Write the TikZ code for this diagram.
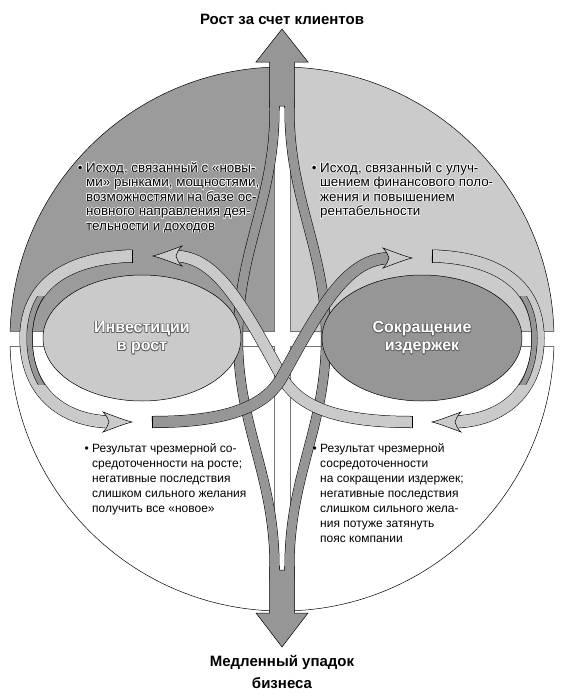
\documentclass[tikz,border=0pt]{standalone}
\usepackage{fontspec}
\setmainfont{Liberation Sans}
\usetikzlibrary{shapes.geometric}

\definecolor{qdark}{RGB}{155,155,155}
\definecolor{qlight}{RGB}{203,203,203}
\definecolor{bdark}{RGB}{150,150,150}
\definecolor{blight}{RGB}{202,202,202}
\definecolor{hdark}{RGB}{95,95,95}

\tikzset{
  band/.style={draw=black, line width=0.5pt, double=#1, double distance=11pt},
  loopband/.style={draw=black, line width=0.5pt, double=#1, double distance=12pt},
  vband/.style={draw=black, line width=0.5pt, double=bdark, double distance=9pt},
  qedge/.style={draw=black!55, line width=0.5pt},
  note/.style={anchor=north west, align=left, inner sep=0pt, font=\fontsize{13.4}{14.5}\selectfont},
  bnote/.style={anchor=north west, align=left, inner sep=0pt, font=\fontsize{12}{15}\selectfont},
  title/.style={font=\fontsize{15}{22}\selectfont\bfseries, align=center, inner sep=0pt},
  lbl/.style={font=\fontsize{16}{18}\selectfont\bfseries, align=center, inner sep=0pt, text=white},
  blob/.style={ellipse, draw=black, line width=0.5pt, minimum width=#1, minimum height=126pt, inner sep=0pt},
  pics/loophead/.style={code={
    \path[pic actions] (0,0) .. controls (-8,-2) and (-18,-6) .. (-29,-10)
      .. controls (-25,-6) and (-24,-3) .. (-23,0)
      .. controls (-24,3) and (-25,6) .. (-29,10)
      .. controls (-18,6) and (-8,2) .. (0,0) -- cycle;}},
}

% text with a thin halo round it
\newcommand\halonote[5]{%
  \foreach \hx/\hy in {0.7/0,-0.7/0,0/0.7,0/-0.7,0.5/0.5,-0.5/0.5,0.5/-0.5,-0.5/-0.5}
    {\node[#3, text=#4] at ([shift={(\hx,\hy)}]#2) {#5};}
  \node[#3] (#1) at (#2) {#5};}

\begin{document}
\begin{tikzpicture}[x=1pt, y=-1pt]
\useasboundingbox (0,0) rectangle (574,696);

% quadrants
\begin{scope}
  \clip (0,0) rectangle (274,331);
  \filldraw[fill=qdark, draw=black, line width=0.5pt] (282,339) circle [radius=272];
\end{scope}
\begin{scope}
  \clip (290,0) rectangle (574,331);
  \filldraw[fill=qlight, draw=black, line width=0.5pt] (282,339) circle [radius=272];
\end{scope}
\begin{scope}
  \clip (0,346) rectangle (274,696);
  \draw[line width=0.5pt] (282,339) circle [radius=272];
\end{scope}
\begin{scope}
  \clip (290,346) rectangle (574,696);
  \draw[line width=0.5pt] (282,339) circle [radius=272];
\end{scope}
\draw[qedge] (274,67.1) -- (274,331) -- (10.1,331);
\draw[qedge] (290,67.1) -- (290,331) -- (553.9,331);
\draw[qedge] (10.1,346) -- (274,346) -- (274,610.9);
\draw[qedge] (553.9,346) -- (290,346) -- (290,610.9);

% vertical bands
\draw[vband] (274.5,100) -- (274.5,110) .. controls (274.5,200) and (238,250) .. (238,338)
  .. controls (238,426) and (274.5,476) .. (274.5,566) -- (274.5,580);
\draw[vband] (289.5,100) -- (289.5,110) .. controls (289.5,200) and (326,250) .. (326,338)
  .. controls (326,426) and (289.5,476) .. (289.5,566) -- (289.5,580);

% up and down arrows
\fill[bdark] (269.5,108) -- (269.5,62) -- (256,62) -- (282,29) -- (308,62) -- (294.5,62)
  -- (294.5,108) -- (284.5,108) -- (284.5,106) -- (279.5,106) -- (279.5,108) -- cycle;
\draw[line width=0.5pt] (269.5,108) -- (269.5,62) -- (256,62) -- (282,29) -- (308,62)
  -- (294.5,62) -- (294.5,108) (279.5,108) -- (279.5,106) -- (284.5,106) -- (284.5,108);
\fill[bdark] (269.5,566) -- (269.5,613) -- (256,613) -- (282,647) -- (308,613) -- (294.5,613)
  -- (294.5,566) -- (284.5,566) -- (284.5,570) -- (279.5,570) -- (279.5,566) -- cycle;
\draw[line width=0.5pt] (269.5,566) -- (269.5,613) -- (256,613) -- (282,647) -- (308,613)
  -- (294.5,613) -- (294.5,566) (279.5,566) -- (279.5,570) -- (284.5,570) -- (284.5,566);

% ellipses
\node[blob=198pt, fill=blight] (invest) at (142,338) {};
\node[blob=200pt, fill=bdark] (cuts) at (422,338) {};

% figure eight: loops round the ellipses
\draw[loopband=blight] (132,256) .. controls (60,258) and (26,290) .. (26,338)
  .. controls (26,390) and (60,421) .. (111,422);
\draw[loopband=blight] (432,256) .. controls (504,258) and (538,290) .. (538,338)
  .. controls (538,390) and (504,421) .. (453,422);
% darker inner side of the loops
\begin{scope}
  \clip (0,296) rectangle (120,384);
  \draw[loopband=bdark, double distance=5pt, xshift=3.5pt] (132,256) .. controls (60,258) and (26,290) .. (26,338)
    .. controls (26,390) and (60,421) .. (111,422);
\end{scope}
\begin{scope}
  \clip (444,296) rectangle (574,384);
  \draw[loopband=bdark, double distance=5pt, xshift=-3.5pt] (432,256) .. controls (504,258) and (538,290) .. (538,338)
    .. controls (538,390) and (504,421) .. (453,422);
\end{scope}
\draw[line width=0.5pt] (132,249.5) -- (132,262.5) (432,249.5) -- (432,262.5);

% figure eight: crossing bands
\draw[band=blight] (412,422) .. controls (345,422) and (300,410) .. (282,377)
  .. controls (240,300) and (215,256) .. (174,256);
\draw[band=bdark] (152,422) .. controls (219,422) and (264,410) .. (282,377)
  .. controls (324,300) and (349,258) .. (391,258);
\draw[line width=0.5pt] (412,416) -- (412,428) (152,416) -- (152,428);
\pic[fill=blight, draw=black, line width=0.5pt, rotate=180] at (153,256) {loophead};
\pic[fill=blight, draw=black, line width=0.5pt] at (412,258) {loophead};
\pic[fill=blight, draw=black, line width=0.5pt] at (132,422) {loophead};
\pic[fill=blight, draw=black, line width=0.5pt, rotate=180] at (432,422) {loophead};

% labels
\node[title] (grow) at (282,19) {Рост за счет клиентов};
\node[title] (decline) at (282,672) {Медленный упадок\\бизнеса};
\halonote{investlbl}{142,338}{lbl}{hdark}{Инвестиции\\в рост}
\halonote{cutslbl}{422,338}{lbl}{hdark}{Сокращение\\издержек}
\halonote{tlnote}{86,162}{note}{white}{\llap{• }Исход, связанный с «новы-\\ми» рынками, мощностями,\\возможностями на базе ос-\\новного направления дея-\\тельности и доходов}
\halonote{trnote}{320,162}{note}{white}{\llap{• }Исход, связанный с улуч-\\шением финансового поло-\\жения и повышением\\рентабельности}
\node[bnote] (blnote) at (92,443) {\llap{• }Результат чрезмерной со-\\средоточенности на росте;\\негативные последствия\\слишком сильного желания\\получить все «новое»};
\node[bnote] (brnote) at (320,443) {\llap{• }Результат чрезмерной\\сосредоточенности\\на сокращении издержек;\\негативные последствия\\слишком сильного жела-\\ния потуже затянуть\\пояс компании};
\end{tikzpicture}
\end{document}
